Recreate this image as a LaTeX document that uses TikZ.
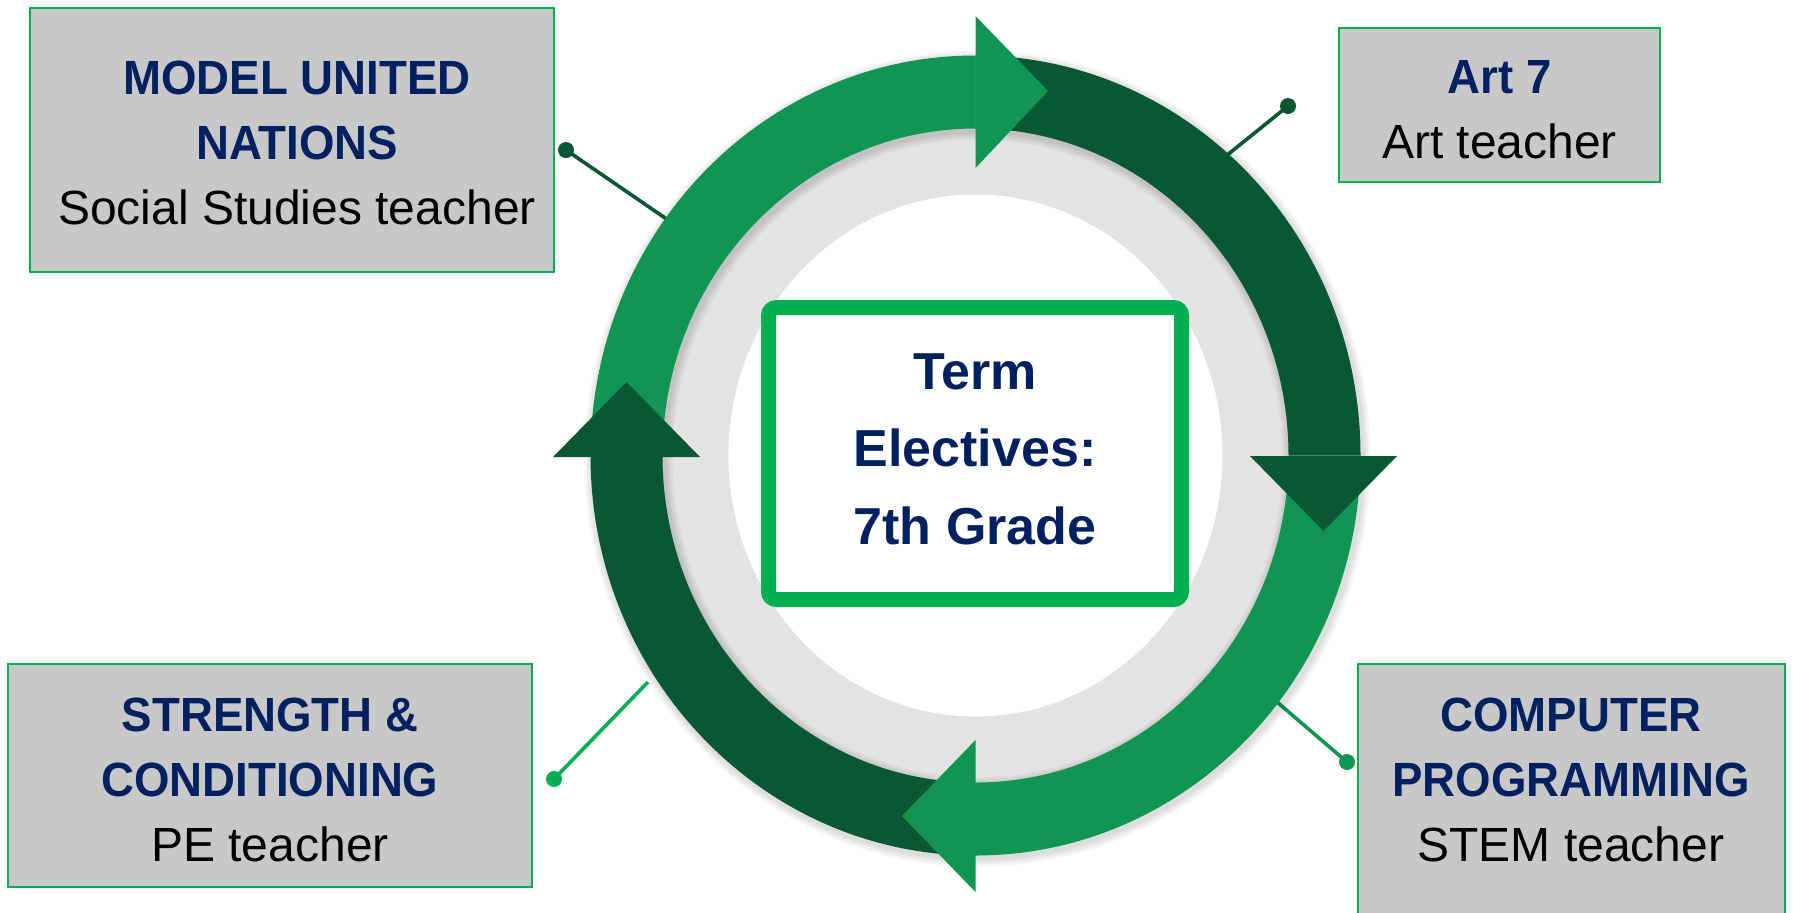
\documentclass[tikz,border=0pt]{standalone}
\usepackage{fontspec}
\setmainfont{Liberation Sans}
\newfontfamily\titlefnt{Liberation Sans}[FakeStretch=0.95]
\usetikzlibrary{calc}
\definecolor{lgreen}{HTML}{109652}
\definecolor{dgreen}{HTML}{0A5733}
\definecolor{bgreen}{HTML}{00B050}
\definecolor{navy}{HTML}{002060}
\definecolor{boxgray}{HTML}{C8C8C8}
\definecolor{ringgray}{HTML}{E3E3E3}
\newcommand\titl[1]{{\titlefnt\bfseries\color{navy}#1}}
\newcommand\ringseg[3]{\fill[#1] ($(C)+(#2:385 and 400)$) arc[start angle=#2, end angle=#3, x radius=385, y radius=400] -- ($(C)+(#3:313 and 327)$) arc[start angle=#3, end angle=#2, x radius=313, y radius=327] -- cycle;}
\begin{document}
\begin{tikzpicture}[x=0.5pt,y=-0.5pt,
  box/.style={draw=bgreen, line width=1pt, fill=boxgray, rectangle, inner sep=0pt},
  lbl/.style={align=center, inner sep=0pt, text=black, font=\fontsize{24pt}{32.5pt}\selectfont},
  ctext/.style={align=center, inner sep=0pt, text=navy, font=\fontsize{26pt}{38.8pt}\selectfont\bfseries},
  dot/.style={circle, inner sep=0pt, minimum size=8pt},
  conn/.style={line width=1.8pt},
  shade/.style={fill=black, fill opacity=0.035, even odd rule}]
\useasboundingbox (0,0) rectangle (1793,912);
\coordinate (C) at (975.5,455.5);
\coordinate (S) at (977.5,458.5);

% outer boxes
\node[box, minimum width=262pt, minimum height=132pt] (munbox) at (292,140) {};
\node[lbl] (muntext) at (297,142.5) {\titl{MODEL UNITED}\\\titl{NATIONS}\\Social Studies teacher};
\node[box, minimum width=160.5pt, minimum height=77pt] (artbox) at (1499.5,105) {};
\node[lbl] (arttext) at (1499.5,110) {\titl{Art 7}\\Art teacher};
\node[box, minimum width=262pt, minimum height=111.5pt] (sbox) at (270,775.5) {};
\node[lbl] (stext) at (270,779.5) {\titl{STRENGTH \&}\\\titl{CONDITIONING}\\PE teacher};
\node[box, minimum width=213.5pt, minimum height=128pt] (cbox) at (1571.5,792) {};
\node[lbl] (ctext) at (1571,779.5) {\titl{COMPUTER}\\\titl{PROGRAMMING}\\STEM teacher};

% ring background
\fill[ringgray] (C) ellipse [x radius=318, y radius=332];
\fill[white] (C) ellipse [x radius=247, y radius=261];

% connectors
\node[dot, fill=dgreen] (d1) at (566,150) {};
\coordinate (e1) at (668,220);
\draw[conn, dgreen] (d1.center) -- (e1);
\node[dot, fill=dgreen] (d2) at (1288,106) {};
\coordinate (e2) at (1226,156);
\draw[conn, dgreen] (d2.center) -- (e2);
\node[dot, fill=bgreen] (d3) at (554,779) {};
\coordinate (e3) at (648,682);
\draw[conn, bgreen] (d3.center) -- (e3);
\node[dot, fill=lgreen] (d4) at (1347,762) {};
\coordinate (e4) at (1277,702);
\draw[conn, lgreen] (d4.center) -- (e4);

% soft shadow of the ring
\foreach \k in {2,4,6,8} {
  \path[shade] (S) ellipse [x radius=385+\k, y radius=400+\k] (S) ellipse [x radius=313-\k, y radius=327-\k];
}

% ring segments
\ringseg{lgreen}{180}{270}
\ringseg{dgreen}{270}{360}
\ringseg{lgreen}{0}{90}
\ringseg{dgreen}{90}{180}

% arrowheads
\fill[lgreen] (975.5,16) -- (1048,91) -- (975.5,168) -- cycle;
\fill[dgreen] (1250,456) -- (1397,456) -- (1323.5,531) -- cycle;
\fill[lgreen] (975.5,740) -- (902,816) -- (975.5,892) -- cycle;
\fill[dgreen] (553,457) -- (700,457) -- (626.5,382) -- cycle;

% centre box
\node[draw=bgreen, line width=7.5pt, fill=white, rounded corners=4pt, minimum width=206.5pt, minimum height=146pt] (centre) at (975,453.5) {};
\node[ctext] (centretext) at (975,449.3) {Term\\Electives:\\7th Grade};
\end{tikzpicture}
\end{document}
